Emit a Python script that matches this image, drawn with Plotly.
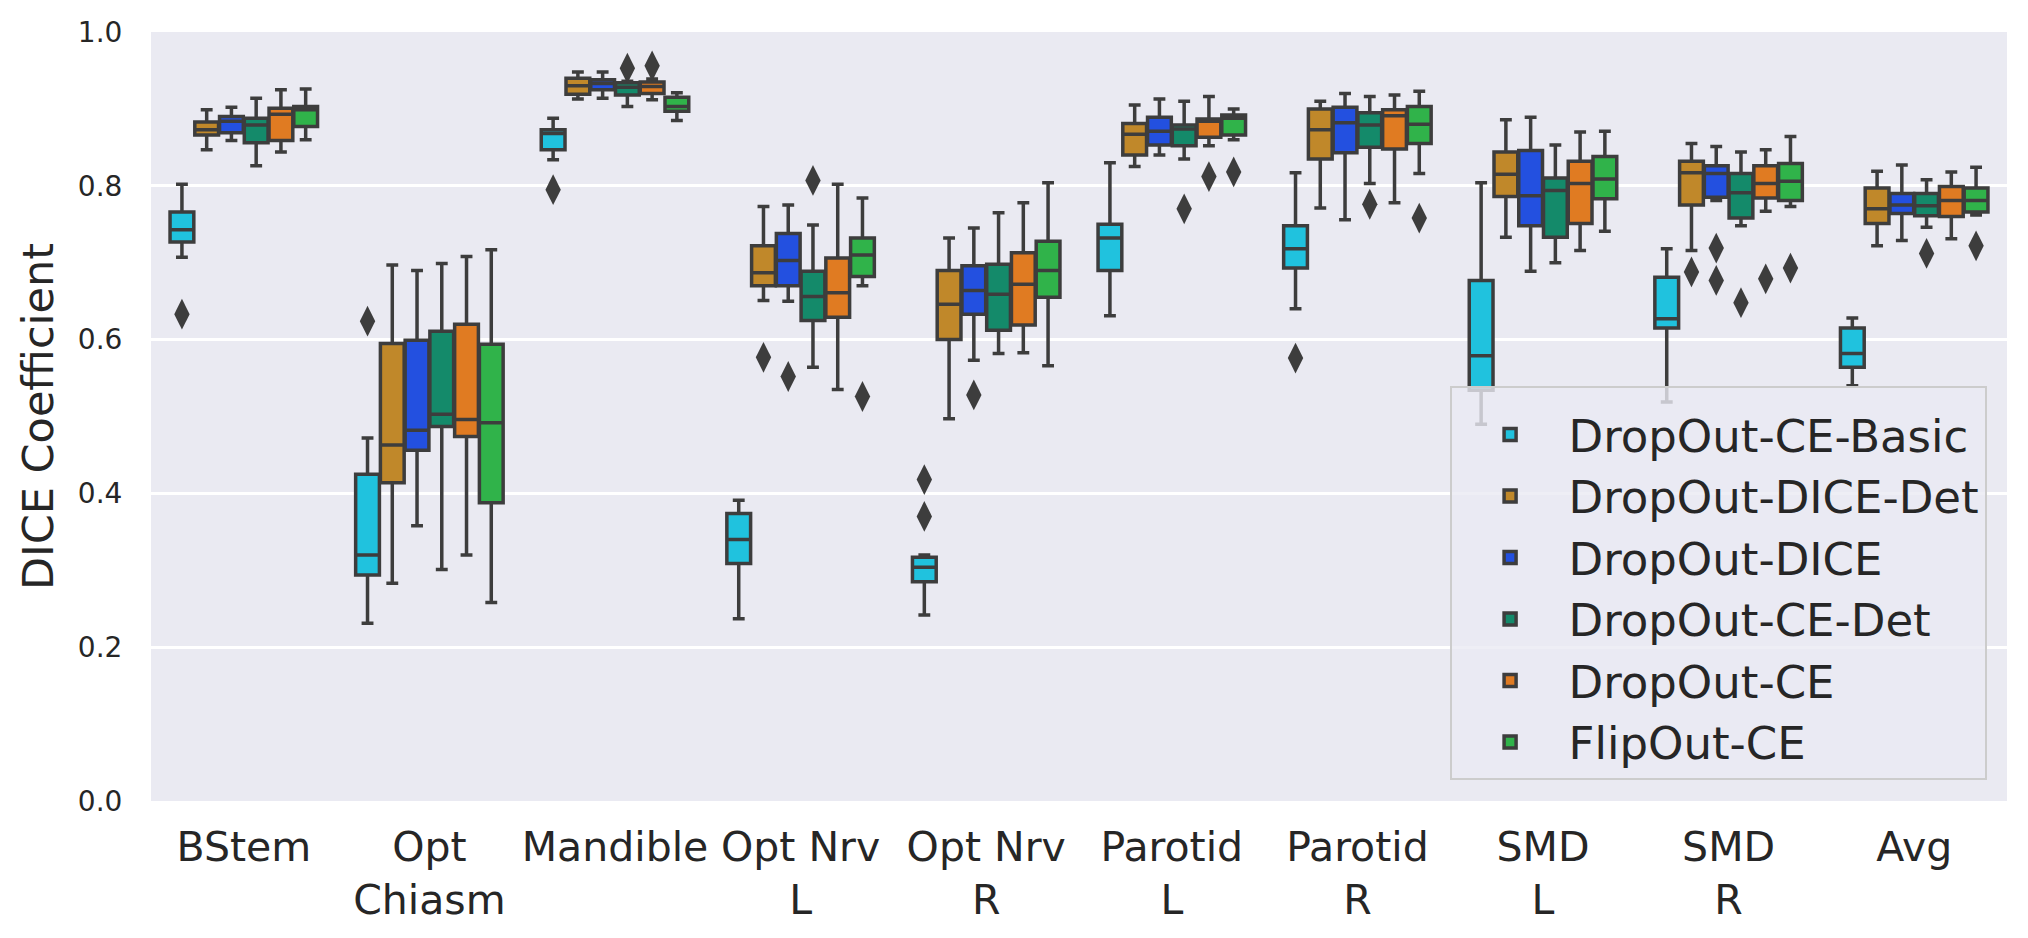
import plotly.graph_objects as go

# 장기(카테고리)와 x축 라벨
categories = ["BStem", "Opt Chiasm", "Mandible", "Opt Nrv L", "Opt Nrv R",
              "Parotid L", "Parotid R", "SMD L", "SMD R", "Avg"]
tick_labels = ["BStem", "Opt<br>Chiasm", "Mandible", "Opt Nrv<br>L", "Opt Nrv<br>R",
               "Parotid<br>L", "Parotid<br>R", "SMD<br>L", "SMD<br>R", "Avg"]

# 각 모델: 카테고리별 [lower whisker, q1, median, q3, upper whisker]
ce_basic = [
    [0.707, 0.727, 0.743, 0.766, 0.802],
    [0.231, 0.294, 0.320, 0.425, 0.472],
    [0.834, 0.847, 0.868, 0.873, 0.888],
    [0.237, 0.309, 0.340, 0.374, 0.391],
    [0.242, 0.285, 0.304, 0.317, 0.320],
    [0.631, 0.690, 0.732, 0.750, 0.830],
    [0.640, 0.693, 0.718, 0.748, 0.817],
    [0.490, 0.534, 0.579, 0.677, 0.804],
    [0.519, 0.615, 0.627, 0.681, 0.718],
    [0.540, 0.564, 0.582, 0.615, 0.628],
]
dice_det = [
    [0.847, 0.866, 0.873, 0.883, 0.899],
    [0.283, 0.414, 0.463, 0.595, 0.697],
    [0.913, 0.919, 0.930, 0.940, 0.948],
    [0.651, 0.670, 0.687, 0.722, 0.773],
    [0.497, 0.600, 0.646, 0.690, 0.732],
    [0.825, 0.840, 0.867, 0.881, 0.905],
    [0.771, 0.835, 0.873, 0.900, 0.910],
    [0.733, 0.786, 0.815, 0.844, 0.886],
    [0.716, 0.775, 0.817, 0.832, 0.855],
    [0.722, 0.751, 0.770, 0.797, 0.819],
]
dice = [
    [0.859, 0.869, 0.884, 0.890, 0.902],
    [0.358, 0.456, 0.482, 0.599, 0.690],
    [0.914, 0.925, 0.933, 0.938, 0.948],
    [0.650, 0.670, 0.703, 0.738, 0.775],
    [0.573, 0.633, 0.664, 0.696, 0.745],
    [0.840, 0.853, 0.871, 0.889, 0.913],
    [0.756, 0.843, 0.882, 0.902, 0.920],
    [0.689, 0.748, 0.787, 0.846, 0.889],
    [0.781, 0.785, 0.816, 0.826, 0.851],
    [0.729, 0.764, 0.775, 0.790, 0.827],
]
ce_det = [
    [0.826, 0.856, 0.879, 0.888, 0.914],
    [0.301, 0.487, 0.503, 0.611, 0.699],
    [0.903, 0.918, 0.928, 0.934, 0.936],
    [0.564, 0.625, 0.656, 0.689, 0.749],
    [0.582, 0.612, 0.659, 0.698, 0.765],
    [0.835, 0.852, 0.874, 0.879, 0.910],
    [0.803, 0.850, 0.879, 0.895, 0.916],
    [0.700, 0.733, 0.794, 0.810, 0.853],
    [0.748, 0.758, 0.791, 0.816, 0.844],
    [0.746, 0.761, 0.774, 0.790, 0.808],
]
ce = [
    [0.844, 0.859, 0.893, 0.901, 0.925],
    [0.320, 0.474, 0.496, 0.620, 0.708],
    [0.912, 0.920, 0.929, 0.935, 0.939],
    [0.535, 0.629, 0.661, 0.706, 0.802],
    [0.583, 0.619, 0.672, 0.713, 0.778],
    [0.852, 0.863, 0.884, 0.887, 0.916],
    [0.778, 0.848, 0.891, 0.899, 0.918],
    [0.716, 0.751, 0.803, 0.832, 0.870],
    [0.767, 0.784, 0.803, 0.826, 0.847],
    [0.731, 0.760, 0.781, 0.799, 0.818],
]
flipout = [
    [0.860, 0.877, 0.899, 0.903, 0.926],
    [0.258, 0.388, 0.492, 0.594, 0.717],
    [0.885, 0.897, 0.903, 0.915, 0.921],
    [0.670, 0.682, 0.710, 0.732, 0.784],
    [0.566, 0.655, 0.690, 0.728, 0.804],
    [0.860, 0.866, 0.888, 0.892, 0.900],
    [0.816, 0.855, 0.880, 0.903, 0.923],
    [0.741, 0.783, 0.809, 0.838, 0.871],
    [0.773, 0.781, 0.806, 0.829, 0.864],
    [0.762, 0.766, 0.781, 0.797, 0.824],
]

# 이상치 (카테고리, 값)
ce_basic_out = [("BStem", 0.633), ("Opt Chiasm", 0.624), ("Mandible", 0.795),
                ("Opt Nrv R", 0.370), ("Opt Nrv R", 0.418), ("Parotid R", 0.576)]
dice_det_out = [("Opt Nrv L", 0.577), ("SMD R", 0.688)]
dice_out = [("Opt Nrv L", 0.552), ("Opt Nrv R", 0.528), ("SMD R", 0.719), ("SMD R", 0.677)]
ce_det_out = [("Mandible", 0.953), ("Opt Nrv L", 0.807), ("Parotid L", 0.770),
              ("Parotid R", 0.776), ("SMD R", 0.648), ("Avg", 0.712)]
ce_out = [("Mandible", 0.956), ("Parotid L", 0.812), ("SMD R", 0.679)]
flipout_out = [("Opt Nrv L", 0.526), ("Parotid L", 0.818), ("Parotid R", 0.758),
               ("SMD R", 0.693), ("Avg", 0.722)]

names = ["DropOut-CE-Basic", "DropOut-DICE-Det", "DropOut-DICE",
         "DropOut-CE-Det", "DropOut-CE", "FlipOut-CE"]
series = [ce_basic, dice_det, dice, ce_det, ce, flipout]
outliers = [ce_basic_out, dice_det_out, dice_out, ce_det_out, ce_out, flipout_out]
colors = ["#20c2de", "#c0882a", "#2350e0", "#148a6a", "#e07b22", "#30b34a"]

edge = "#3d3d3d"
font = "DejaVu Sans"

fig = go.Figure()

for name, rows, color in zip(names, series, colors):
    fig.add_trace(go.Box(
        name=name,
        x=categories,
        lowerfence=[r[0] for r in rows],
        q1=[r[1] for r in rows],
        median=[r[2] for r in rows],
        q3=[r[3] for r in rows],
        upperfence=[r[4] for r in rows],
        fillcolor=color,
        line=dict(color=edge, width=3.5),
        whiskerwidth=0.5,
        boxpoints=False,
        offsetgroup=name,
        legendgroup=name,
        hoverinfo="skip",
    ))

# 이상치 점 (박스와 같은 위치에 배치)
for name, pts in zip(names, outliers):
    fig.add_trace(go.Scatter(
        x=[p[0] for p in pts],
        y=[p[1] for p in pts],
        mode="markers",
        marker=dict(symbol="diamond-tall", size=22, color=edge),
        offsetgroup=name,
        legendgroup=name,
        showlegend=False,
        hoverinfo="skip",
    ))

# 페이지 body 여백(8px)을 고려한 크기
fig.update_layout(
    width=2012,
    height=922,
    margin=dict(l=143, r=13, t=24, b=129),
    paper_bgcolor="white",
    plot_bgcolor="#eaeaf2",
    font=dict(family=font, color="#262626"),
    boxmode="group",
    boxgap=0.2,
    boxgroupgap=0.04,
    scattermode="group",
    scattergap=0.2,
    showlegend=True,
    legend=dict(
        x=0.989, y=0.027, xanchor="right", yanchor="bottom",
        bgcolor="rgba(234,234,242,0.8)",
        bordercolor="#cccccc", borderwidth=2,
        font=dict(size=45, family=font, color="#262626"),
        title=dict(text=" ", font=dict(size=8)),
        itemwidth=107,
        tracegroupgap=0,
    ),
)

fig.update_xaxes(
    type="category",
    categoryorder="array",
    categoryarray=categories,
    tickvals=categories,
    ticktext=tick_labels,
    tickfont=dict(size=41, family=font),
    ticklabelstandoff=18,
    showgrid=False,
    zeroline=False,
    showline=False,
    automargin=False,
)

fig.update_yaxes(
    range=[0, 1.0],
    dtick=0.2,
    tickformat=".1f",
    tickfont=dict(size=28, family=font),
    ticks="outside",
    ticklen=22,
    tickcolor="rgba(0,0,0,0)",
    gridcolor="white",
    gridwidth=2.5,
    zeroline=False,
    showline=False,
    title=dict(text="DICE Coefficient", font=dict(size=43, family=font), standoff=10),
    automargin=False,
)

fig.write_html("out.html")
